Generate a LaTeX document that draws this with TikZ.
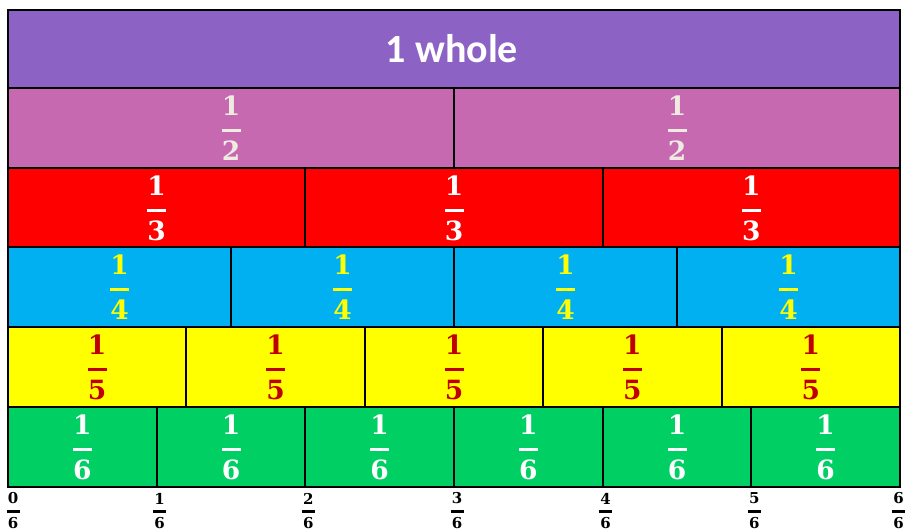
\documentclass[tikz,border=0pt]{standalone}
\usepackage{fontspec}
\setmainfont{DejaVu Serif}
\newfontfamily\calib{Carlito}
\definecolor{purplec}{HTML}{8D62C5}
\definecolor{pinkc}{HTML}{C669B1}
\definecolor{redc}{HTML}{FF0000}
\definecolor{bluec}{HTML}{00B0F0}
\definecolor{yellowc}{HTML}{FFFF00}
\definecolor{greenc}{HTML}{00CF64}
\definecolor{tanc}{HTML}{EEECE1}
\definecolor{darkredc}{HTML}{C00000}
\tikzset{
  cell/.style={draw=black, line width=2pt},
  fr/.style={inner sep=0pt, font=\fontsize{26.5}{26.5}\selectfont\bfseries},
  lab/.style={inner sep=0pt, font=\fontsize{15}{15}\selectfont\bfseries},
}
\newcommand\myfrac[6]{%
  \node[fr, text=#6] (#1n) at (#2,#3-24) {#4};
  \fill[#6] (#2-9.5,#3-1.5) rectangle (#2+9.5,#3+1.5);
  \node[fr, text=#6] (#1d) at (#2,#3+21) {#5};
}
\newcommand\mylab[4]{%
  \node[lab] (#1n) at (#2,#3-13) {#4};
  \fill[black] (#2-6.5,#3-1.1) rectangle (#2+6.5,#3+1.1);
  \node[lab] (#1d) at (#2,#3+12) {6};
}
\begin{document}
\begin{tikzpicture}[x=1pt,y=-1pt]
\useasboundingbox (0,0) rectangle (905,531);
% whole
\draw[cell, fill=purplec] (8,10) rectangle (900,88);
\node[text=white, inner sep=0pt, font=\calib\bfseries\fontsize{40}{40}\selectfont] (whole) at (452,49) {1 whole};
% rows
\foreach \n/\top/\fc/\tc in {2/88/pinkc/tanc, 3/168/redc/white, 4/247/bluec/yellowc, 5/327/yellowc/darkredc, 6/407/greenc/white}{
  \foreach \i in {1,...,\n}{
    \pgfmathsetmacro\xa{8+(\i-1)*892/\n}
    \pgfmathsetmacro\xb{8+\i*892/\n}
    \pgfmathsetmacro\xc{(\xa+\xb)/2}
    \pgfmathsetmacro\yb{\top+80}
    \pgfmathsetmacro\ym{\top+42}
    \draw[cell, fill=\fc] (\xa,\top) rectangle (\xb,\yb);
    \myfrac{f\n-\i}{\xc}{\ym}{1}{\n}{\tc}
  }
}
% bottom labels
\mylab{l0}{13}{511.5}{0}
\foreach \k in {1,...,5}{
  \pgfmathsetmacro\xl{8+\k*892/6+3}
  \mylab{l\k}{\xl}{511.5}{\k}
}
\mylab{l6}{898.5}{511.5}{6}
\end{tikzpicture}
\end{document}
